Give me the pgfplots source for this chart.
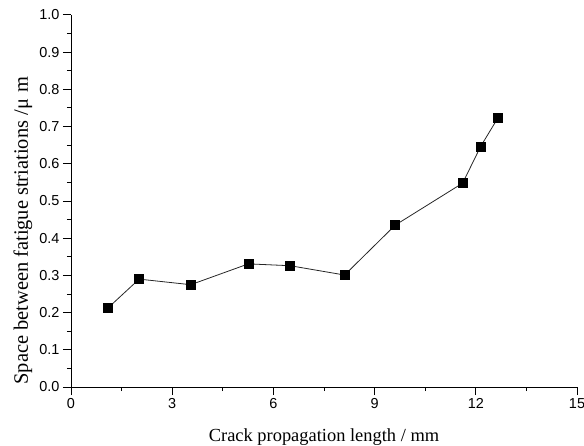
\documentclass[border=0pt]{standalone}
\usepackage{fontspec}
\setmainfont{Liberation Serif}
\setsansfont{Liberation Sans}
\usepackage{pgfplots}
\pgfplotsset{compat=1.18}

\begin{document}
\begin{tikzpicture}
  \begin{axis}[
      scale only axis,
      width=506bp, height=372bp,
      xmin=0, xmax=15, ymin=0, ymax=1.0,
      xtick={0,3,6,9,12,15},
      ytick={0,0.1,...,1.0},
      minor x tick num=1, minor y tick num=1,
      axis x line*=bottom, axis y line*=left,
      tick align=outside,
      major tick length=8bp, minor tick length=4bp,
      axis line style={line width=1pt},
      every tick/.style={line width=1pt, black},
      /pgf/number format/assume math mode=true,
      ticklabel style={font=\sffamily\fontsize{14.5}{16}\selectfont},
      yticklabel style={/pgf/number format/.cd, fixed, fixed zerofill, precision=1},
      xlabel={Crack propagation length / mm},
      xlabel style={font=\fontsize{18.5}{20}\selectfont, at={(rel axis cs:0.5,0)}, anchor=base, yshift=-54bp},
      ylabel={Space between fatigue striations /μ\,\,m},
      ylabel style={font=\fontsize{20.5}{22}\selectfont,
                    at={([xshift=-43bp,yshift=-1bp]rel axis cs:0,0)},
                    anchor=base west},
    ]
    \addplot[black!85, line width=0.8pt, mark=square*, mark size=4.5bp,
             mark options={fill=black, draw=black}]
      coordinates {
        (1.09,0.212) (2.02,0.290) (3.55,0.275) (5.26,0.331) (6.50,0.326)
        (8.11,0.301) (9.61,0.435) (11.61,0.548) (12.14,0.646) (12.66,0.724)
      };
  \end{axis}
  \pgfresetboundingbox
  \path (-71bp,-59bp) rectangle (513bp,387bp);
\end{tikzpicture}
\end{document}
